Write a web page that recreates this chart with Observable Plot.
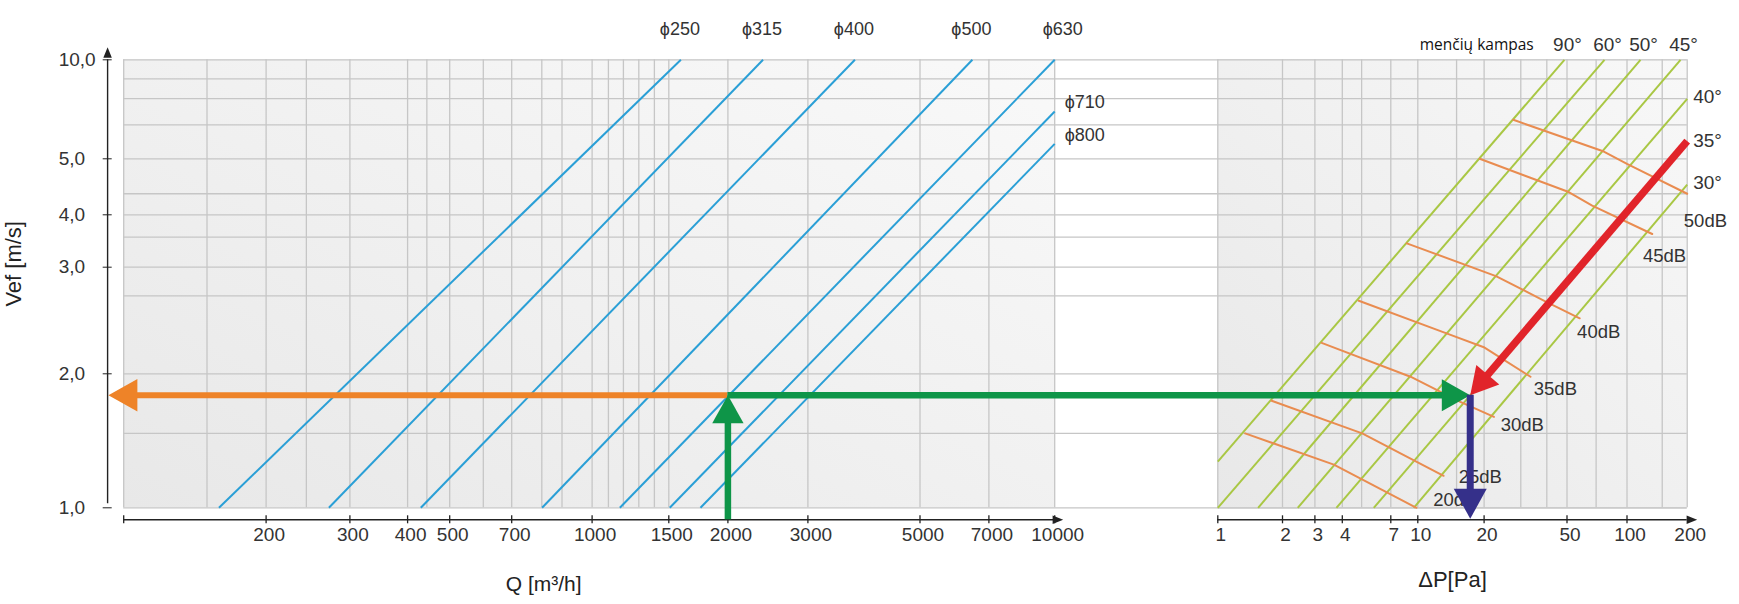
<!DOCTYPE html>
<html>
<head>
<meta charset="utf-8">
<script src="https://cdn.jsdelivr.net/npm/d3@7"></script>
<script src="https://cdn.jsdelivr.net/npm/@observablehq/plot@0.6"></script>
<style>
  body { margin: 0; background: #fff; }
  #chart { position: relative; width: 1739px; height: 604px; }
  #chart svg { position: absolute; left: 0; top: 0; }
</style>
</head>
<body>
<div id="chart"></div>
<script>
// ---------------- DATA ----------------
// Left panel: air flow Q [m³/h] vs effective velocity Vef [m/s]
const qTickValues = [200, 300, 400, 500, 700, 1000, 1500, 2000, 3000, 5000, 7000, 10000];
const qGridValues = [100, 150, 200, 243, 300, 400, 443, 500, 600, 700, 800, 875, 1000, 1090, 1180, 1280, 1390, 1500, 2000, 3000, 5000, 7000, 10000];
const vTickValues = [1, 2, 3, 4, 5, 10];
const vGridValues = [1, 1.47, 2, 2.69, 3, 3.54, 4, 4.35, 5, 6.34, 7.62, 8.75, 10];

// duct diameter lines (start at Vef = 1, end at top / right edge)
const diameters = ["250", "315", "400", "500", "630", "710", "800"];
const ductQStart = [159, 271, 429, 801, 1158, 1507, 1750];
const ductVStart = [1, 1, 1, 1, 1, 1, 1];
const ductQEnd = [1591, 2390, 3717, 6457, 10000, 10000, 10000];
const ductVEnd = [10, 10, 10, 10, 10, 6.96, 5.55];

// Right panel: pressure drop ΔP [Pa]
const dpTickValues = [1, 2, 3, 4, 7, 10, 20, 50, 100, 200];
const dpGridValues = [1, 2, 3, 4, 5, 7, 10, 15, 20, 30, 40, 50, 70, 100, 150, 200];

// blade angle lines ("menčių kampas")
const bladeAngles = ["90°", "60°", "50°", "45°", "40°", "35°", "30°"];
const bladeDpStart = [1, 1, 1.54, 2.42, 3.76, 5.75, 9.48];
const bladeVStart = [1.27, 1, 1, 1, 1, 1, 1];
const bladeDpEnd = [48.6, 77.1, 116.8, 185.2, 200, 200, 200];
const bladeVEnd = [10, 10, 10, 10, 7.61, 5.61, 4.51];

// noise level curves
const noiseLevels = ["50dB", "45dB", "40dB", "35dB", "30dB", "25dB", "20dB"];
const noiseDp = [
  [27.6, 76.5, 100, 200],
  [19.1, 51.0, 66.9, 133.7],
  [8.65, 22.8, 38.9, 57.9],
  [4.84, 13.6, 20.1, 33.4],
  [3.22, 9.08, 15.6, 22.3],
  [1.78, 5.03, 13.1],
  [1.34, 3.66, 9.83]
];
const noiseV = [
  [6.57, 5.26, 4.90, 4.35],
  [5.00, 4.38, 4.15, 3.60],
  [3.42, 2.90, 2.64, 2.47],
  [2.64, 2.33, 2.21, 1.97],
  [2.25, 1.97, 1.73, 1.60],
  [1.74, 1.47, 1.18],
  [1.47, 1.25, 1.00]
];

// worked example (operating point)
const qOp = 2000;
const vOp = 1.79;
const dpOp = 17.3;
const redStartDp = 200;
const redStartV = 5.66;

// ---------------- TABLES ----------------
const ducts = diameters.map((d, i) => ({label: "ϕ" + d, q1: ductQStart[i], v1: ductVStart[i], q2: ductQEnd[i], v2: ductVEnd[i]}));
const blades = bladeAngles.map((a, i) => ({label: a, p1: bladeDpStart[i], v1: bladeVStart[i], p2: bladeDpEnd[i], v2: bladeVEnd[i]}));
const noiseRows = noiseLevels.flatMap((lvl, i) => noiseDp[i].map((p, j) => ({level: lvl, dp: p, v: noiseV[i][j]})));
const noiseEnds = noiseLevels.map((lvl, i) => ({level: lvl, dp: noiseDp[i].at(-1), v: noiseV[i].at(-1)}));

// ---------------- STYLE ----------------
const W = 1739, H = 604;
const FONT = "'Liberation Sans', Arial, sans-serif";
const INK = "#333";
const AXIS = "#222";
const GRID = "#c6c6c6";
const BLUE = "#2a9fd6";
const LIME = "#a9c744";
const ORANGE_LINE = "#e98c50";
const ORANGE = "#ee8328";
const GREEN = "#0e9548";
const RED = "#e1242a";
const NAVY = "#35308a";

const xQ = {type: "log", domain: [100, 200, 300, 400, 500, 700, 1000, 1500, 2000, 3000, 5000, 7000, 10000],
  range: [123.2, 265.6, 349.4, 407.1, 449.2, 511.2, 591.6, 668.3, 727.4, 807.4, 919.5, 988.4, 1054.2], label: null, axis: null};
const xP = {type: "log", domain: dpTickValues,
  range: [1217.3, 1282, 1314.4, 1341.8, 1390.3, 1417.3, 1483.6, 1566.5, 1626.5, 1686.7], label: null, axis: null};
const yV = {type: "log", domain: vTickValues, range: [507.3, 373.3, 266.7, 214.3, 158.3, 59.3], label: null};

// convert a Q position to the ΔP scale (the green arrow crosses both panels)
const sQ = Plot.scale({x: xQ});
const sP = Plot.scale({x: xP});
const dpAtQ = q => sP.invert(sQ.apply(q));

function head(ratio) {
  return {draw(ctx, size) {
    const h = 2 * Math.sqrt(size / Math.PI), w = h * ratio;
    ctx.moveTo(0, 0); ctx.lineTo(w / 2, h); ctx.lineTo(-w / 2, h); ctx.closePath();
  }};
}
const bigHead = head(1.12), smallHead = head(0.8);

function gradientDefs(id, c0, c1) {
  return () => {
    const ns = "http://www.w3.org/2000/svg";
    const defs = document.createElementNS(ns, "defs");
    const g = document.createElementNS(ns, "linearGradient");
    g.setAttribute("id", id);
    g.setAttribute("x1", "0"); g.setAttribute("y1", "1"); g.setAttribute("x2", "1"); g.setAttribute("y2", "0");
    [[0, c0], [1, c1]].forEach(([o, c]) => {
      const s = document.createElementNS(ns, "stop");
      s.setAttribute("offset", o); s.setAttribute("stop-color", c);
      g.appendChild(s);
    });
    defs.appendChild(g);
    return defs;
  };
}

// bottom axis built from the x scale: short tick rules + labels
function bottomAxis(tickValues, labelValues, end) {
  return [
    Plot.ruleY([1], {x1: () => tickValues[0], x2: () => end, dy: 12, stroke: AXIS, strokeWidth: 1.4}),
    Plot.ruleX(tickValues, {y1: () => 1, y2: () => 1, dy: 12, insetTop: -4, insetBottom: -4, stroke: AXIS, strokeWidth: 1.3}),
    Plot.text(labelValues, {x: d => d, frameAnchor: "bottom", dy: 33, dx: 3, text: d => String(d), fontSize: 19, fill: INK})
  ];
}

const common = {width: W, height: H, marginTop: 59.3, marginBottom: 96.7, marginRight: 52.3,
  style: {fontFamily: FONT, fontSize: "19px", color: INK, background: "transparent", overflow: "visible"}};

// ---------------- LEFT PANEL ----------------
const left = Plot.plot({
  ...common,
  marginLeft: 123.2,
  x: xQ, y: yV,
  marks: [
    gradientDefs("bgQ", "#e8e8e8", "#f9f9f9"),
    Plot.rect([{}], {x1: () => xQ.domain[0], x2: () => xQ.domain.at(-1), y1: () => 1, y2: () => 10, fill: "url(#bgQ)"}),
    Plot.ruleY(vGridValues, {stroke: GRID, strokeWidth: 1.3}),
    Plot.ruleX(qGridValues, {stroke: GRID, strokeWidth: 1.3}),
    Plot.link(ducts, {x1: "q1", y1: "v1", x2: "q2", y2: "v2", stroke: BLUE, strokeWidth: 2}),
    Plot.text(ducts.slice(0, 4), {x: "q2", y: "v2", text: "label", dy: -31, dx: -1, fontSize: 18, fill: INK}),
    Plot.text(ducts.slice(4, 5), {x: "q2", y: "v2", text: "label", dy: -31, dx: 8, fontSize: 18, fill: INK}),
    Plot.text(ducts.slice(5), {x: "q2", y: "v2", text: "label", dy: -9, dx: 10, textAnchor: "start", fontSize: 18, fill: INK}),
    // y axis
    Plot.ruleX([xQ.domain[0]], {y1: 1, y2: 10, dx: -16.1, insetTop: -4, stroke: AXIS, strokeWidth: 1.4}),
    Plot.dot([{q: xQ.domain[0], v: 10}], {x: "q", y: "v", dx: -16.1, dy: -12.6, r: 5.3, symbol: smallHead, fill: AXIS, stroke: "none"}),
    Plot.axisY({ticks: vTickValues, tickSize: 9, dx: -11.5, fill: "none", stroke: AXIS, label: null}),
    Plot.axisY({ticks: vTickValues, tickSize: 0, tickPadding: 0, dx: -65, textAnchor: "start",
      tickFormat: d => d.toFixed(1).replace(".", ","), fontSize: 19, fill: INK, label: null}),
    Plot.text(["Vef [m/s]"], {frameAnchor: "left", textAnchor: "middle", rotate: -90, dx: -109.8, dy: -20, fontSize: 22, fill: AXIS}),
    // x axis
    ...bottomAxis([xQ.domain[0], ...qTickValues], qTickValues, xQ.domain.at(-1)),
    Plot.dot([{q: 10000, v: 1}], {x: "q", y: "v", dx: 8.5, dy: 12, rotate: 90, r: 5.3, symbol: smallHead, fill: AXIS, stroke: "none"}),
    Plot.text(["Q [m³/h]"], {frameAnchor: "bottom-left", textAnchor: "middle", dx: 420, dy: 82.7, fontSize: 21, fill: AXIS}),
    // worked example: orange (to Vef) and green (from Q)
    Plot.ruleY([vOp], {x1: () => xQ.domain[0], x2: () => qOp, stroke: ORANGE, strokeWidth: 6}),
    Plot.dot([{q: xQ.domain[0], v: vOp}], {x: "q", y: "v", dx: -15.3, rotate: -90, r: 14.5, symbol: bigHead, fill: ORANGE, stroke: "none"}),
    Plot.ruleX([qOp], {y1: 1, y2: vOp, insetTop: 12, insetBottom: -12.5, stroke: GREEN, strokeWidth: 6.5}),
    Plot.dot([{q: qOp, v: vOp}], {x: "q", y: "v", r: 14, symbol: bigHead, fill: GREEN, stroke: "none"})
  ]
});

// ---------------- RIGHT PANEL ----------------
const dbOffsets = {"50dB": [-3.4, 27.2], "45dB": [-9.3, 22.2], "40dB": [-2.6, 14.2], "35dB": [3.3, 12.7], "30dB": [6.7, 8.3], "25dB": [15, 0.8], "20dB": [16.7, -7.7]};

const right = Plot.plot({
  ...common,
  marginLeft: 1217.3,
  x: xP, y: {...yV, axis: null},
  marks: [
    gradientDefs("bgP", "#e8e8e8", "#f8f8f8"),
    Plot.rect([{}], {x1: () => 1, x2: () => 200, y1: () => 1, y2: () => 10, fill: "url(#bgP)"}),
    Plot.ruleY(vGridValues, {stroke: GRID, strokeWidth: 1.3}),
    Plot.ruleX(dpGridValues, {stroke: GRID, strokeWidth: 1.3}),
    Plot.link(blades, {x1: "p1", y1: "v1", x2: "p2", y2: "v2", stroke: LIME, strokeWidth: 2}),
    Plot.line(noiseRows, {x: "dp", y: "v", z: "level", stroke: ORANGE_LINE, strokeWidth: 2}),
    // labels
    Plot.text(blades.slice(0, 4), {x: "p2", y: "v2", text: "label", dx: 3, dy: -15.3, fontSize: 19, fill: INK}),
    Plot.text(blades.slice(4), {x: "p2", y: "v2", text: "label", dx: 6, dy: -1.7, textAnchor: "start", fontSize: 19, fill: INK}),
    Plot.text(blades.slice(0, 1), {x: "p2", y: "v2", text: () => "menčių kampas", dx: -30.7, dy: -14.3, textAnchor: "end",
      fontFamily: "'Open Sans', sans-serif", fontSize: 15.5, fill: "#111"}),
    ...noiseEnds.map(d => Plot.text([d], {x: "dp", y: "v", text: "level", textAnchor: "start",
      dx: dbOffsets[d.level][0], dy: dbOffsets[d.level][1], fontSize: 18.5, fill: INK})),
    // x axis
    ...bottomAxis(dpTickValues.slice(0, -1), dpTickValues, 200),
    Plot.dot([{p: 200, v: 1}], {x: "p", y: "v", dx: 10, dy: 12, rotate: 90, r: 5.3, symbol: smallHead, fill: AXIS, stroke: "none"}),
    Plot.text(["ΔP[Pa]"], {frameAnchor: "bottom", textAnchor: "middle", dy: 78.7, fontSize: 22, fill: AXIS}),
    // worked example arrows
    Plot.ruleY([vOp], {x1: () => dpAtQ(qOp), x2: () => dpOp, insetRight: 12, stroke: GREEN, strokeWidth: 6.5}),
    Plot.dot([{p: dpOp, v: vOp}], {x: "p", y: "v", rotate: 90, r: 14.2, symbol: bigHead, fill: GREEN, stroke: "none"}),
    Plot.arrow([{p1: redStartDp, v1: redStartV, p2: dpOp, v2: vOp}], {x1: "p1", y1: "v1", x2: "p2", y2: "v2",
      headLength: 0, insetEnd: 12, stroke: RED, strokeWidth: 7.5, strokeLinecap: "butt"}),
    Plot.dot([{p: dpOp, v: vOp}], {x: "p", y: "v", rotate: 220.6, r: 13.5, symbol: bigHead, fill: RED, stroke: "none"}),
    Plot.ruleX([dpOp], {y1: 1, y2: vOp, stroke: NAVY, strokeWidth: 7}),
    Plot.dot([{p: dpOp, v: 1}], {x: "p", y: "v", dy: 11, rotate: 180, r: 15, symbol: head(1.1), fill: NAVY, stroke: "none"})
  ]
});

const chart = document.getElementById("chart");
chart.appendChild(left);
chart.appendChild(right);
</script>
</body>
</html>
